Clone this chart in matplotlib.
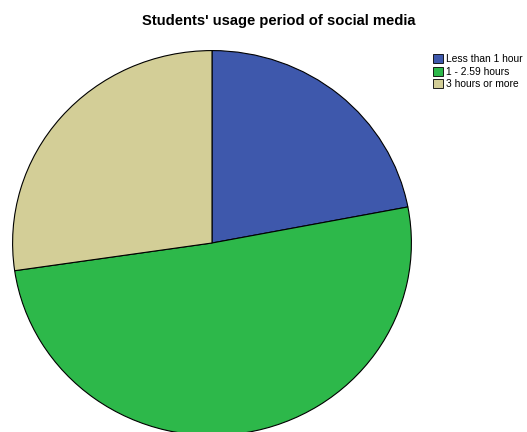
import matplotlib.pyplot as plt
from matplotlib.patches import Patch

plt.rcParams['font.family'] = ['Liberation Sans', 'DejaVu Sans']

labels = ['Less than 1 hour', '1 - 2.59 hours', '3 hours or more']
shares = [22.0, 50.7, 27.3]
colors = ['#3e58ac', '#2db84a', '#d3ce97']

W, H = 527, 432
fig = plt.figure(figsize=(W / 100, H / 100), dpi=100)
fig.patch.set_facecolor('white')

# pie axes placed in pixel units (slightly clipped at the bottom, like the original)
ax = fig.add_axes([12 / W, (H - 436) / H, 400 / W, 386 / H])
ax.pie(shares, colors=colors, startangle=90, counterclock=False, radius=1,
       wedgeprops=dict(edgecolor='black', linewidth=0.8))
ax.set_aspect('auto')
ax.set_xlim(-1.003, 1.003)
ax.set_ylim(-1.003, 1.003)
ax.axis('off')

fig.text(279 / W, 1 - 21 / H, "Students' usage period of social media",
         ha='center', va='center', fontsize=10.6, fontweight='bold')

handles = [Patch(facecolor=c, edgecolor='black', linewidth=0.6) for c in colors]
fig.legend(handles, labels, loc='upper left', bbox_to_anchor=(426 / W, 1 - 47 / H),
           frameon=False, fontsize=7.4, handlelength=0.95, handleheight=0.95,
           handletextpad=0.3, labelspacing=0.25, borderpad=0.2)

plt.savefig('out.png', dpi=100)
